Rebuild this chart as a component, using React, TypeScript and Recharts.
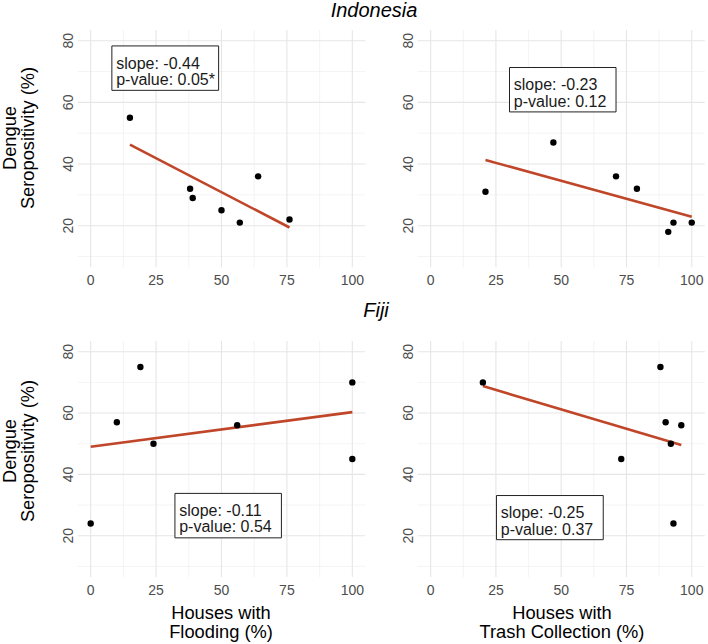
import React from "react";
import {
  ScatterChart,
  Scatter,
  XAxis,
  YAxis,
  CartesianGrid,
  ReferenceArea,
} from "recharts";

// Indonesia - flooding
const idnFloodX = [15, 38, 39, 50, 57, 64, 76];
const idnFloodY = [55, 32, 29, 25, 21, 36, 22];
const idnFloodFit = [
  [15, 46.3],
  [76, 19.4],
];
const idnFloodStats = ["slope: -0.44", "p-value: 0.05*"];

// Indonesia - trash collection
const idnTrashX = [21, 47, 71, 79, 91, 93, 100];
const idnTrashY = [31, 47, 36, 32, 18, 21, 21];
const idnTrashFit = [
  [21, 41.3],
  [100, 22.9],
];
const idnTrashStats = ["slope: -0.23", "p-value: 0.12"];

// Fiji - flooding
const fjiFloodX = [0, 10, 19, 24, 56, 100, 100];
const fjiFloodY = [24, 57, 75, 50, 56, 70, 45];
const fjiFloodFit = [
  [0, 49.0],
  [100, 60.3],
];
const fjiFloodStats = ["slope: -0.11", "p-value: 0.54"];

// Fiji - trash collection
const fjiTrashX = [20, 73, 88, 90, 92, 93, 96];
const fjiTrashY = [70, 45, 75, 57, 50, 24, 56];
const fjiTrashFit = [
  [20, 68.8],
  [96, 49.6],
];
const fjiTrashStats = ["slope: -0.25", "p-value: 0.37"];

const xTicks = [0, 25, 50, 75, 100];
const xMinor = [12.5, 37.5, 62.5, 87.5];
const yTicks = [20, 40, 60, 80];
const yMinor = [10, 30, 50, 70];

const W = 708;
const H = 644;
const FONT = "'Liberation Sans', Arial, Helvetica, sans-serif";
const FIT_COLOR = "#c0462a";
const AXIS_W = 30;
const AXIS_H = 30;

const toPoints = (xs: number[], ys: number[]) => xs.map((x, i) => ({ x, y: ys[i] }));
const toLine = (pts: number[][]) => pts.map(([x, y]) => ({ x, y }));

const YTick = (props: any) => {
  const { x, y, payload } = props;
  return (
    <text
      x={x}
      y={y}
      transform={`rotate(-90 ${x} ${y})`}
      textAnchor="middle"
      dy="0.36em"
      fill="#4d4d4d"
      fontSize={14}
      fontFamily={FONT}
    >
      {payload.value}
    </text>
  );
};

const StatBox = (props: any) => {
  const { viewBox, lines } = props;
  const { x, y } = viewBox;
  return (
    <g fontFamily={FONT} fontSize={16} fill="#1a1a1a">
      <text x={x + 4.3} y={y + 22.6}>
        {lines[0]}
      </text>
      <text x={x + 4.3} y={y + 39.1}>
        {lines[1]}
      </text>
    </g>
  );
};

interface PanelProps {
  xs: number[];
  ys: number[];
  fit: number[][];
  stats: string[];
  box: number[]; // x1, x2, y1, y2 in data units
  plot: number[]; // left, top, width, height in px
}

function Panel({ xs, ys, fit, stats, box, plot }: PanelProps) {
  const [left, top, pw, ph] = plot;
  return (
    <div style={{ position: "absolute", left: 0, top: 0 }}>
      <ScatterChart
        width={W}
        height={H}
        margin={{
          left: left - AXIS_W,
          top,
          right: W - left - pw,
          bottom: H - top - ph - AXIS_H,
        }}
      >
        <CartesianGrid
          stroke="#ececec"
          strokeWidth={0.6}
          horizontalValues={yMinor}
          verticalValues={xMinor}
        />
        <CartesianGrid
          stroke="#e6e6e6"
          strokeWidth={1.1}
          horizontalValues={yTicks}
          verticalValues={xTicks}
        />
        <XAxis
          type="number"
          dataKey="x"
          domain={[-5, 105]}
          ticks={xTicks}
          allowDataOverflow
          height={AXIS_H}
          axisLine={false}
          tickLine={false}
          tickSize={6}
          tickMargin={2}
          tick={{ fill: "#4d4d4d", fontSize: 14, fontFamily: FONT }}
        />
        <YAxis
          type="number"
          dataKey="y"
          domain={[6.5, 83.5]}
          ticks={yTicks}
          allowDataOverflow
          width={AXIS_W}
          axisLine={false}
          tickLine={false}
          tickSize={6}
          tickMargin={3.6}
          tick={<YTick />}
        />
        <ReferenceArea
          x1={box[0]}
          x2={box[1]}
          y1={box[2]}
          y2={box[3]}
          fill="#ffffff"
          fillOpacity={1}
          stroke="#222"
          strokeWidth={1}
          label={<StatBox lines={stats} />}
        />
        <Scatter
          data={toLine(fit)}
          line={{ stroke: FIT_COLOR, strokeWidth: 2.6 }}
          shape={() => <g />}
          isAnimationActive={false}
        />
        <Scatter
          data={toPoints(xs, ys)}
          shape={(p: any) => <circle cx={p.cx} cy={p.cy} r={3.2} fill="#000" />}
          isAnimationActive={false}
        />
      </ScatterChart>
    </div>
  );
}

function Titles() {
  const ttl = { fontFamily: FONT, fontSize: 18.3, fill: "#000" };
  return (
    <svg width={W} height={H} style={{ position: "absolute", left: 0, top: 0 }}>
      <text x={374} y={16.5} textAnchor="middle" fontStyle="italic" fontFamily={FONT} fontSize={20}>
        Indonesia
      </text>
      <text x={376} y={317} textAnchor="middle" fontStyle="italic" fontFamily={FONT} fontSize={20}>
        Fiji
      </text>
      {[138, 451].map((cy) => (
        <g key={cy} {...ttl}>
          <text x={16} y={cy} textAnchor="middle" transform={`rotate(-90 16 ${cy})`}>
            Dengue
          </text>
          <text x={34.3} y={cy} textAnchor="middle" transform={`rotate(-90 34.3 ${cy})`}>
            Seropositivity (%)
          </text>
        </g>
      ))}
      <g {...ttl} textAnchor="middle">
        <text x={221} y={619.3}>Houses with</text>
        <text x={221} y={637.7}>Flooding (%)</text>
        <text x={562} y={619.3}>Houses with</text>
        <text x={562} y={637.7}>Trash Collection (%)</text>
      </g>
    </svg>
  );
}

export default function App() {
  return (
    <div
      style={{
        position: "absolute",
        left: 0,
        top: 0,
        width: W,
        height: H,
        background: "#fff",
        overflow: "hidden",
      }}
    >
      <Panel
        xs={idnFloodX}
        ys={idnFloodY}
        fit={idnFloodFit}
        stats={idnFloodStats}
        box={[8.1, 48.9, 78.3, 63.9]}
        plot={[77.6, 29.9, 287.8, 237.4]}
      />
      <Panel
        xs={idnTrashX}
        ys={idnTrashY}
        fit={idnTrashFit}
        stats={idnTrashStats}
        box={[30.2, 71.0, 71.3, 56.9]}
        plot={[417.6, 29.9, 287.2, 237.4]}
      />
      <Panel
        xs={fjiFloodX}
        ys={fjiFloodY}
        fit={fjiFloodFit}
        stats={fjiFloodStats}
        box={[32.2, 72.9, 33.8, 19.3]}
        plot={[77.6, 341, 287.8, 236.1]}
      />
      <Panel
        xs={fjiTrashX}
        ys={fjiTrashY}
        fit={fjiTrashFit}
        stats={fjiTrashStats}
        box={[25.2, 66.1, 33.1, 18.7]}
        plot={[417.6, 341, 287.2, 236.1]}
      />
      <Titles />
    </div>
  );
}
